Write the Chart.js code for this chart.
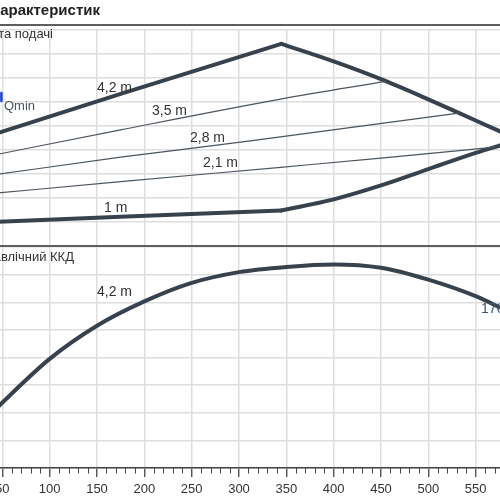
<!DOCTYPE html>
<html>
<head>
<meta charset="utf-8">
<script src="https://cdn.jsdelivr.net/npm/chart.js@4"></script>
<style>
  body { margin: 0; background: #fff; }
  #wrap { position: relative; width: 500px; height: 500px; overflow: hidden;
          font-family: "Liberation Sans", Arial, sans-serif; color: #333; }
  canvas { position: absolute; left: -65px; }
  #headChart { top: 20px; }
  #effChart { top: 237px; }
  .rule { position: absolute; left: 0; width: 500px; height: 2px; background: #5e5e5e; z-index: 2; }
  .txt { position: absolute; white-space: nowrap; font-size: 14px; line-height: 14px; z-index: 3; }
  .small { font-size: 13px; line-height: 13px; }
</style>
</head>
<body>
<div id="wrap">
  <canvas id="headChart" width="608" height="228"></canvas>
  <canvas id="effChart" width="608" height="263"></canvas>

  <div class="rule" style="top:24px;height:1.5px;"></div>
  <div class="rule" style="top:245px;"></div>

  <div class="txt" style="right:400px;top:2px;font-size:15px;line-height:15px;font-weight:bold;color:#222;">Криві характеристик</div>
  <div class="txt small" style="right:447px;top:27px;">Висота подачі</div>
  <div class="txt small" style="right:426px;top:250px;">Гідравлічний ККД</div>
  <div class="txt small" style="left:4px;top:99px;color:#4a5663;">Qmin</div>

  <div class="txt" style="left:97px;top:80px;">4,2 m</div>
  <div class="txt" style="left:152px;top:103px;">3,5 m</div>
  <div class="txt" style="left:190px;top:130px;">2,8 m</div>
  <div class="txt" style="left:203px;top:155px;">2,1 m</div>
  <div class="txt" style="left:104px;top:200px;">1 m</div>
  <div class="txt" style="left:97px;top:284px;">4,2 m</div>
  <div class="txt" style="left:481px;top:301px;color:#3f5873;">176</div>
</div>

<script>
// flow (x) values, head in m
// max curve (4,2 m): straight rise to the corner, then falling
const flowMaxRise = [40, 175, 344.7];
const headMaxRise = [2.32, 3.17, 4.21];
const flowMaxFall = [344.7, 400, 450, 500, 550, 580];
const headMaxFall = [4.21, 3.845, 3.475, 3.055, 2.615, 2.351];

const flow35 = [40, 175, 344, 455];
const head35 = [1.89, 2.42, 3.06, 3.43];

const flow28 = [40, 175, 312, 532];
const head28 = [1.48, 1.85, 2.19, 2.77];

const flow21 = [40, 175, 344, 450, 570];
const head21 = [1.096, 1.34, 1.64, 1.83, 2.06];

// min curve (1 m): nearly flat, then rising
const flowMinFlat = [40, 175, 344.7];
const headMinFlat = [0.50, 0.61, 0.74];
const flowMinRise = [344.7, 400, 450, 500, 550, 580];
const headMinRise = [0.74, 0.972, 1.262, 1.602, 1.94, 2.12];

const qminFlow = [49, 49];
const qminHead = [3.02, 3.19];

// efficiency, %
const flowEff = [40, 48, 100, 150, 200, 250, 300, 350, 400, 450, 500, 550, 576, 590];
const effVals = [20.3, 23, 39.5, 51.5, 60.3, 67, 70.9, 72.8, 73.7, 72.5, 68.2, 62.2, 58.0, 55.5];

const xTickLabels = ['', '50', '100', '150', '200', '250', '300', '350', '400', '450', '500', '550', ''];

const pts = (xs, ys) => xs.map((x, i) => ({ x: x, y: ys[i] }));

Chart.defaults.font.family = '"Liberation Sans", Arial, sans-serif';
Chart.defaults.animation = false;

const gridColor = '#dedede';
const thick = '#38424c';
const thin = '#4b555f';

function lineSet(data, color, width, smooth) {
  return {
    data: data,
    borderColor: color,
    borderWidth: width,
    borderCapStyle: 'round',
    pointRadius: 0,
    tension: 0,
    cubicInterpolationMode: smooth ? 'monotone' : 'default',
    fill: false
  };
}

const baseOpts = {
  responsive: false,
  events: [],
  plugins: { legend: { display: false }, tooltip: { enabled: false } }
};

// upper chart: head
new Chart(document.getElementById('headChart'), {
  type: 'line',
  data: {
    datasets: [
      lineSet(pts(flow35, head35), thin, 1.2, true),
      lineSet(pts(flow28, head28), thin, 1.2, true),
      lineSet(pts(flow21, head21), thin, 1.2, true),
      lineSet(pts(flowMaxRise, headMaxRise), thick, 4, false),
      lineSet(pts(flowMaxFall, headMaxFall), thick, 4, true),
      lineSet(pts(flowMinFlat, headMinFlat), thick, 4, false),
      lineSet(pts(flowMinRise, headMinRise), thick, 4, true),
      lineSet(pts(qminFlow, qminHead), '#1f3fd6', 2.5, false)
    ]
  },
  options: Object.assign({}, baseOpts, {
    layout: { padding: { left: 20, right: 20, top: 10, bottom: 2 } },
    scales: {
      x: {
        type: 'linear', min: 0, max: 600,
        ticks: { stepSize: 50, display: false },
        grid: { color: gridColor, lineWidth: 1.5, drawTicks: false },
        border: { display: false },
        afterFit: s => { s.height = 0; }
      },
      y: {
        min: 0, max: 4.5,
        ticks: { stepSize: 0.5, display: false },
        grid: { color: gridColor, lineWidth: 1.5, drawTicks: false },
        border: { display: false },
        afterFit: s => { s.width = 0; }
      }
    }
  })
});

// minor ticks every 10 on the flow axis
const minorTicks = {
  id: 'minorTicks',
  afterDraw(chart) {
    const sx = chart.scales.x;
    const ctx = chart.ctx;
    const b = chart.chartArea.bottom;
    ctx.save();
    ctx.strokeStyle = '#444';
    ctx.lineWidth = 1;
    for (let v = 10; v < 600; v += 10) {
      if (v % 50 === 0) continue;
      const px = Math.round(sx.getPixelForValue(v)) + 0.5;
      ctx.beginPath();
      ctx.moveTo(px, b);
      ctx.lineTo(px, b + 5.5);
      ctx.stroke();
    }
    ctx.restore();
  }
};

// lower chart: efficiency
new Chart(document.getElementById('effChart'), {
  type: 'line',
  data: {
    datasets: [
      lineSet(pts(flowEff, effVals), thick, 4, true)
    ]
  },
  options: Object.assign({}, baseOpts, {
    layout: { padding: { left: 20, right: 20, top: 10, bottom: 0 } },
    scales: {
      x: {
        type: 'linear', min: 0, max: 600,
        ticks: {
          stepSize: 50, padding: 5, color: '#333', font: { size: 13 },
          maxRotation: 0, autoSkip: false,
          callback: (v, i) => xTickLabels[i]
        },
        grid: { color: gridColor, lineWidth: 1.5, tickLength: 9, tickColor: '#444', tickWidth: 1.3 },
        border: { display: true, color: '#444', width: 1.5 },
        afterFit: s => { s.height = 32; }
      },
      y: {
        min: 0, max: 80,
        ticks: { stepSize: 10, display: false },
        grid: { color: gridColor, lineWidth: 1.5, drawTicks: false },
        border: { display: false },
        afterFit: s => { s.width = 0; }
      }
    }
  }),
  plugins: [minorTicks]
});
</script>
</body>
</html>
